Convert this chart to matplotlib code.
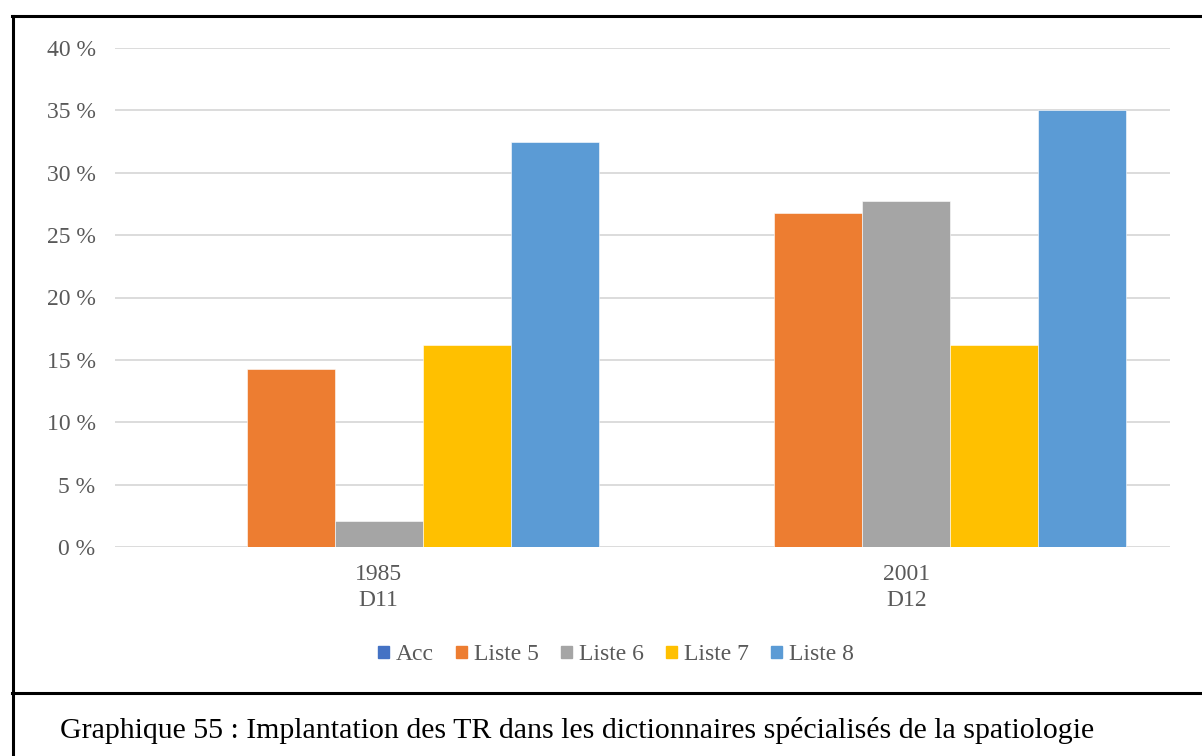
import matplotlib
matplotlib.use("Agg")
import matplotlib.pyplot as plt
from matplotlib.patches import Rectangle
from matplotlib.lines import Line2D
import numpy as np

categories = ["1985\nD11", "2001\nD12"]
series = ["Acc", "Liste 5", "Liste 6", "Liste 7", "Liste 8"]
acc = [0.0, 0.0]
liste5 = [14.3, 26.8]
liste6 = [2.1, 27.7]
liste7 = [16.2, 16.2]
liste8 = [32.5, 35.0]
values = [acc, liste5, liste6, liste7, liste8]
colors = ["#4472C4", "#ED7D31", "#A5A5A5", "#FFC000", "#5B9BD5"]
yticks = [0, 5, 10, 15, 20, 25, 30, 35, 40]
caption = "Graphique 55 : Implantation des TR dans les dictionnaires spécialisés de la spatiologie"

W, H = 1202, 756
fig = plt.figure(figsize=(W / 100, H / 100), dpi=100)
plt.rcParams["font.family"] = ["Liberation Serif", "DejaVu Serif"]

# plot area in pixel coordinates
x0, x1 = 115, 1170
y0, y1 = 547, 48
ax = fig.add_axes([x0 / W, 1 - y0 / H, (x1 - x0) / W, (y0 - y1) / H])

n = len(series)
bw = 88 / 527.5
x = np.arange(len(categories))
for i, (name, vals, c) in enumerate(zip(series, values, colors)):
    ax.bar(x + (i - (n - 1) / 2) * bw, vals, width=bw, color=c,
           edgecolor="white", linewidth=0.4, label=name, zorder=3)

fs = 17
ax.set_xlim(-0.5, len(categories) - 0.5)
ax.set_ylim(0, 40)
ax.set_yticks(yticks)
ax.set_yticklabels([f"{t} %" for t in yticks])
ax.set_xticks(x)
ax.set_xticklabels(categories, linespacing=1.35)
ax.grid(axis="y", color="#D9D9D9", linewidth=1.3, zorder=0)
for s in ax.spines.values():
    s.set_visible(False)
ax.tick_params(axis="both", length=0, labelsize=fs, colors="#595959")
ax.tick_params(axis="y", pad=14)
ax.tick_params(axis="x", pad=12)

handles = [Rectangle((0, 0), 1, 1, color=c) for c in colors]
fig.legend(handles, series, loc="center", bbox_to_anchor=(616 / W, 1 - 655 / H),
           ncol=n, frameon=False, fontsize=fs, handlelength=0.45, handleheight=0.45,
           handletextpad=0.3, columnspacing=0.95, labelcolor="#595959")

# surrounding frames
lw = 2.2
def hline(y, xa, xb):
    fig.add_artist(Line2D([xa / W, xb / W], [1 - y / H, 1 - y / H], color="black", linewidth=lw))
def vline(xp, ya, yb):
    fig.add_artist(Line2D([xp / W, xp / W], [1 - ya / H, 1 - yb / H], color="black", linewidth=lw))
hline(16, 12, W)
hline(693, 12, W)
vline(12.5, 16, H)

fig.text(60 / W, 1 - 731 / H, caption, fontsize=21.5, color="black", va="center", ha="left")

fig.savefig("out.png", dpi=100)
